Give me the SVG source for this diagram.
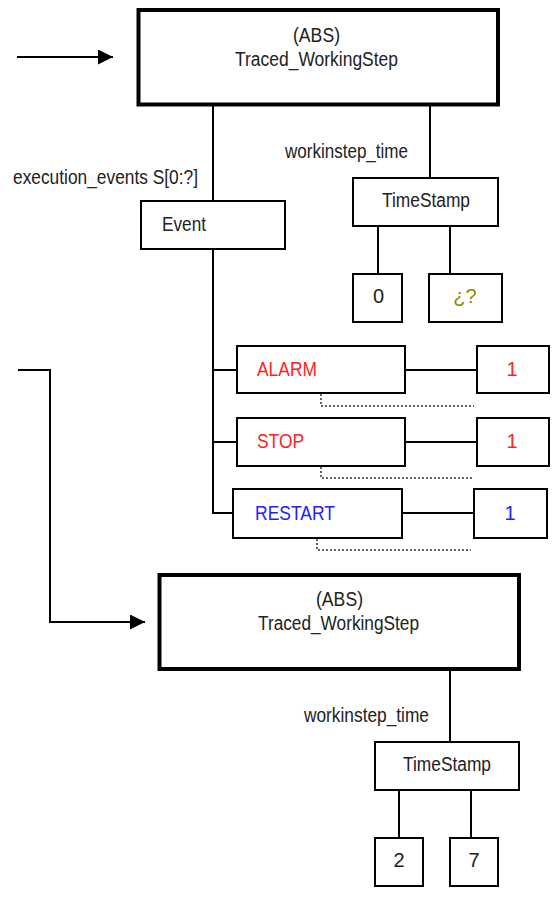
<svg xmlns="http://www.w3.org/2000/svg" width="556" height="900" viewBox="0 0 556 900">
<style>
.bg{fill:#fff}
.thick{fill:#fff;stroke:#000;stroke-width:4}
.box{fill:#fff;stroke:#000;stroke-width:2}
.ln{fill:none;stroke:#000;stroke-width:2}
.dot{fill:none;stroke:#333;stroke-width:1.5;stroke-dasharray:2 2}
text{font-family:"Liberation Sans Narrow","Liberation Sans",Arial,sans-serif;font-size:20px;fill:#222}
.red{fill:#ff2222}
.blue{fill:#2222ff}
.olive{fill:#8c8c00}
.mid{text-anchor:middle}
</style>
<defs>
<marker id="ah" markerUnits="userSpaceOnUse" markerWidth="16" markerHeight="16" refX="15" refY="7.5" orient="auto">
<path d="M0,0 L15,7.5 L0,15 Z" fill="#000"/>
</marker>
</defs>
<rect class="bg" x="0" y="0" width="556" height="900"/>
<g id="connectors">
<line class="ln" x1="17" y1="57" x2="113" y2="57" marker-end="url(#ah)"/>
<polyline class="ln" points="18,370 50,370 50,622 145,622" marker-end="url(#ah)"/>
<line class="ln" x1="213" y1="106" x2="213" y2="201"/>
<line class="ln" x1="430" y1="106" x2="430" y2="178"/>
<line class="ln" x1="378" y1="226" x2="378" y2="274"/>
<line class="ln" x1="450" y1="226" x2="450" y2="274"/>
<polyline class="ln" points="213,249 213,513 233,513"/>
<line class="ln" x1="213" y1="370" x2="237" y2="370"/>
<line class="ln" x1="213" y1="442" x2="237" y2="442"/>
<line class="ln" x1="405" y1="370" x2="477" y2="370"/>
<line class="ln" x1="405" y1="442" x2="477" y2="442"/>
<line class="ln" x1="402" y1="513" x2="474" y2="513"/>
<polyline class="dot" points="321,394 321,406 474,406"/>
<polyline class="dot" points="321,467 321,478 474,478"/>
<polyline class="dot" points="317,539 317,550 471,550"/>
<line class="ln" x1="450" y1="671" x2="450" y2="742"/>
<line class="ln" x1="399" y1="790" x2="399" y2="838"/>
<line class="ln" x1="471" y1="790" x2="471" y2="838"/>
</g>
<g id="ws1">
<rect class="thick" x="138.5" y="10" width="359.5" height="94.5"/>
<text x="293" y="42" textLength="47" lengthAdjust="spacingAndGlyphs">(ABS)</text>
<text x="235" y="65.5" textLength="163" lengthAdjust="spacingAndGlyphs">Traced_WorkingStep</text>
</g>
<g id="label-events">
<text x="13" y="184" textLength="185" lengthAdjust="spacingAndGlyphs">execution_events S[0:?]</text>
</g>
<g id="label-time1">
<text x="285" y="158" textLength="123" lengthAdjust="spacingAndGlyphs">workinstep_time</text>
</g>
<g id="event">
<rect class="box" x="141" y="201" width="144" height="48"/>
<text x="162" y="231" textLength="44" lengthAdjust="spacingAndGlyphs">Event</text>
</g>
<g id="ts1">
<rect class="box" x="353" y="178" width="145" height="48"/>
<text x="382" y="207" textLength="88" lengthAdjust="spacingAndGlyphs">TimeStamp</text>
</g>
<g id="v0">
<rect class="box" x="353" y="274" width="49" height="48"/>
<text class="mid" x="378.5" y="303">0</text>
</g>
<g id="vq">
<rect class="box" x="429" y="274" width="73" height="48"/>
<text class="mid olive" x="465" y="303">¿?</text>
</g>
<g id="alarm">
<rect class="box" x="237" y="346" width="168" height="47"/>
<text class="red" x="257" y="376" textLength="60" lengthAdjust="spacingAndGlyphs">ALARM</text>
</g>
<g id="alarm-val">
<rect class="box" x="477" y="346" width="72" height="47"/>
<text class="mid red" x="512" y="376">1</text>
</g>
<g id="stop">
<rect class="box" x="237" y="418" width="168" height="48"/>
<text class="red" x="257" y="448" textLength="47" lengthAdjust="spacingAndGlyphs">STOP</text>
</g>
<g id="stop-val">
<rect class="box" x="477" y="418" width="72" height="48"/>
<text class="mid red" x="512" y="448">1</text>
</g>
<g id="restart">
<rect class="box" x="233" y="489" width="169" height="49"/>
<text class="blue" x="255" y="520" textLength="80" lengthAdjust="spacingAndGlyphs">RESTART</text>
</g>
<g id="restart-val">
<rect class="box" x="474" y="489" width="73" height="49"/>
<text class="mid blue" x="510" y="520">1</text>
</g>
<g id="ws2">
<rect class="thick" x="159.5" y="575" width="359.5" height="94"/>
<text x="316" y="606" textLength="47" lengthAdjust="spacingAndGlyphs">(ABS)</text>
<text x="258" y="630" textLength="161" lengthAdjust="spacingAndGlyphs">Traced_WorkingStep</text>
</g>
<g id="label-time2">
<text x="304" y="722" textLength="125" lengthAdjust="spacingAndGlyphs">workinstep_time</text>
</g>
<g id="ts2">
<rect class="box" x="375" y="742" width="144" height="48"/>
<text x="403" y="771" textLength="88" lengthAdjust="spacingAndGlyphs">TimeStamp</text>
</g>
<g id="v2">
<rect class="box" x="375" y="838" width="48" height="48"/>
<text class="mid" x="399" y="867">2</text>
</g>
<g id="v7">
<rect class="box" x="450" y="838" width="48" height="48"/>
<text class="mid" x="474" y="867">7</text>
</g>
</svg>
